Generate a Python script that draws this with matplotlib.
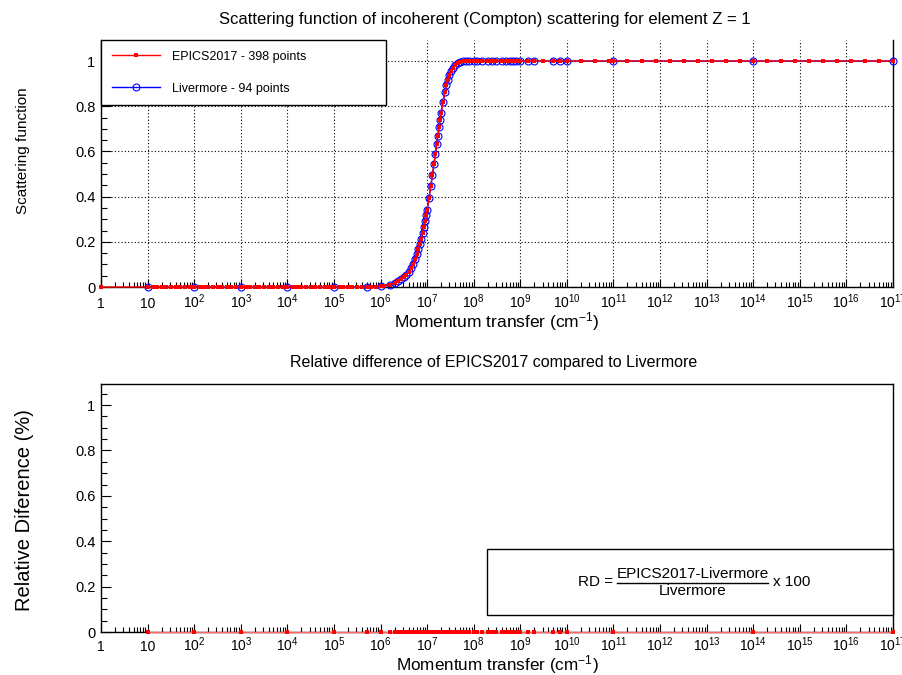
import numpy as np
import matplotlib
matplotlib.use("Agg")
import matplotlib.pyplot as plt
from matplotlib.ticker import FixedLocator, FuncFormatter, NullFormatter
from matplotlib.patches import Rectangle

plt.rcParams['font.family'] = ['Liberation Sans', 'DejaVu Sans']
plt.rcParams['mathtext.fontset'] = 'custom'
plt.rcParams['mathtext.rm'] = 'Liberation Sans'
plt.rcParams['mathtext.it'] = 'Liberation Sans:italic'
plt.rcParams['mathtext.bf'] = 'Liberation Sans:bold'

# ---- data ----
# EPICS2017 flat part (S ~ 0)
epics_low_x = [1, 10, 13, 16, 20, 25, 32, 40, 50, 63, 80,
               1e2, 1.3e2, 1.6e2, 2e2, 2.5e2, 3.2e2, 4e2, 5e2, 6.3e2, 8e2,
               1e3, 1.3e3, 1.6e3, 2e3, 2.5e3, 3.2e3, 4e3, 5e3, 6.3e3, 8e3,
               1e4, 1.3e4, 1.6e4, 2e4, 2.5e4, 3.2e4, 4e4, 5e4, 6.3e4, 8e4,
               1e5, 1.3e5, 1.6e5, 2e5, 2.5e5, 3.2e5, 4e5, 5e5, 6.3e5, 8e5,
               1e6, 1.2e6]
epics_low_y = [0.0] * 51 + [0.004, 0.006]

# Livermore flat part
liv_low_x = [10, 1e2, 1e3, 1e4, 1e5, 5e5, 1e6]
liv_low_y = [0, 0, 0, 0, 0, 0, 0.004]

# rising part (both sets coincide)
rise_x = [1.6e6, 2e6, 2.4e6, 2.8e6, 3.2e6, 3.6e6, 4e6, 4.5e6, 5e6, 5.5e6,
          6e6, 6.5e6, 7e6, 7.5e6, 8e6, 8.5e6, 9e6, 9.5e6, 1e7, 1.1e7,
          1.2e7, 1.3e7, 1.4e7, 1.5e7, 1.6e7, 1.7e7, 1.8e7, 1.9e7, 2e7, 2.2e7,
          2.4e7, 2.6e7, 2.8e7, 3e7, 3.3e7, 3.6e7, 4e7, 4.5e7, 5e7, 6e7,
          7e7, 8e7]
rise_y = [0.011, 0.018, 0.025, 0.034, 0.044, 0.055, 0.068, 0.085, 0.103, 0.123,
          0.145, 0.167, 0.190, 0.214, 0.239, 0.265, 0.290, 0.317, 0.343, 0.395,
          0.446, 0.496, 0.544, 0.589, 0.631, 0.670, 0.706, 0.739, 0.769, 0.820,
          0.861, 0.893, 0.918, 0.937, 0.958, 0.971, 0.983, 0.991, 0.995, 0.998,
          0.999, 1.0]

# plateau
plat_x = [1e8, 1.2e8, 1.5e8, 2e8, 2.5e8, 3e8, 4e8, 5e8, 6e8, 7e8, 8e8, 1e9]
plat_y = [1.0] * 12

liv_tail_x = [1.5e9, 2e9, 5e9, 7e9, 1e10, 1e11, 1e14, 1e17]
liv_tail_y = [1.0] * 8

epics_tail_x = [1.5e9, 2e9, 3e9, 5e9, 7e9, 1e10, 2e10, 4e10, 8e10, 1e11,
                2e11, 4e11, 8e11, 1.6e12, 3.2e12, 6.4e12, 1.28e13, 2.56e13, 5.12e13, 1e14,
                2e14, 4e14, 8e14, 1.6e15, 3.2e15, 6.4e15, 1.28e16, 2.56e16, 5.12e16, 1e17]
epics_tail_y = [1.0] * 30

epics_x = epics_low_x + rise_x + plat_x + epics_tail_x
epics_y = epics_low_y + rise_y + plat_y + epics_tail_y
liv_x = liv_low_x + rise_x + plat_x + liv_tail_x
liv_y = liv_low_y + rise_y + plat_y + liv_tail_y

# relative difference (%) at the Livermore points
rd_y = [0.0] * len(liv_x)

xmin, xmax = 1, 1e17
ymax = 1.093


def log_label(v, pos):
    n = int(round(np.log10(v)))
    if n == 0:
        return "1"
    if n == 1:
        return "10"
    return r"$\mathregular{10^{%d}}$" % n


def style_axis(ax, xpad):
    ax.set_xscale("log")
    ax.set_xlim(xmin, xmax)
    ax.set_ylim(0, ymax)
    major = [10.0 ** k for k in range(0, 18)]
    minor = [m * 10.0 ** k for k in range(0, 17) for m in range(2, 10)]
    ax.xaxis.set_major_locator(FixedLocator(major))
    ax.xaxis.set_minor_locator(FixedLocator(minor))
    ax.xaxis.set_major_formatter(FuncFormatter(log_label))
    ax.xaxis.set_minor_formatter(NullFormatter())
    ax.yaxis.set_major_locator(FixedLocator([0, 0.2, 0.4, 0.6, 0.8, 1.0]))
    ax.yaxis.set_minor_locator(FixedLocator(np.arange(0, 1.1, 0.05)))
    ax.yaxis.set_major_formatter(FuncFormatter(lambda v, p: "%g" % round(v, 1)))
    ax.tick_params(axis="both", which="both", direction="in",
                   top=False, right=False, width=0.8, color="black")
    ax.tick_params(axis="x", which="major", length=6, pad=xpad, labelsize=10)
    ax.tick_params(axis="x", which="minor", length=3.5)
    ax.tick_params(axis="y", which="major", length=7, pad=4, labelsize=10.5)
    ax.tick_params(axis="y", which="minor", length=4)
    # keep the "10" of every label on one baseline
    plt.setp(ax.get_xticklabels(), va="baseline")
    for s in ax.spines.values():
        s.set_linewidth(1)
        s.set_color("black")


fig = plt.figure(figsize=(9.02, 6.75), dpi=100)

# top panel
ax1 = fig.add_axes([0.112, 0.5748, 0.878, 0.3659])
style_axis(ax1, 15)
ax1.grid(True, which="major", linestyle=(0, (1, 2)), color="black", linewidth=0.8)
ax1.spines["top"].set_visible(False)
ax1.plot(liv_x, liv_y, color="blue", linewidth=1, marker="o", markersize=5,
         markerfacecolor="none", markeredgecolor="blue", markeredgewidth=0.8,
         clip_on=False, label="Livermore - 94 points", zorder=3)
ax1.plot(epics_x, epics_y, color="red", linewidth=1, marker="s", markersize=2.5,
         markeredgewidth=0, clip_on=False, label="EPICS2017 - 398 points", zorder=4)
h, l = ax1.get_legend_handles_labels()
leg = ax1.legend([h[1], h[0]], [l[1], l[0]], loc="upper left",
                 bbox_to_anchor=(0.0, 0.0, 0.36, 1.0), mode="expand",
                 borderaxespad=0, borderpad=0.85, labelspacing=1.6,
                 handlelength=3.9, handletextpad=0.9, numpoints=1,
                 fontsize=9, fancybox=False, framealpha=1, edgecolor="black")
leg.get_frame().set_linewidth(1)
ax1.set_xlabel(r"Momentum transfer (cm$^{-1}$)", fontsize=12.5, va="center")
ax1.xaxis.set_label_coords(0.5, -0.14)
ax1.set_ylabel("Scattering function", fontsize=11, va="center")
ax1.yaxis.set_label_coords(-0.099, 0.55)
fig.text(0.5377, 0.9704, "Scattering function of incoherent (Compton) scattering for element Z = 1",
         ha="center", va="center", fontsize=12)

# bottom panel
ax2 = fig.add_axes([0.112, 0.0637, 0.878, 0.3674])
style_axis(ax2, 13.5)
ax2.plot(liv_x, rd_y, color="#ff6666", linewidth=1, marker="s", markersize=2.5,
         markerfacecolor="red", markeredgewidth=0, clip_on=False, zorder=4)
ax2.set_xlabel(r"Momentum transfer (cm$^{-1}$)", fontsize=12.3, va="center")
ax2.xaxis.set_label_coords(0.5, -0.13)
ax2.set_ylabel("Relative Diference (%)", fontsize=14.5, va="center")
ax2.yaxis.set_label_coords(-0.096, 0.49)
fig.text(0.5477, 0.4637, "Relative difference of EPICS2017 compared to Livermore",
         ha="center", va="center", fontsize=11.5)

# formula box
ax2.add_patch(Rectangle((0.487, 0.0685), 0.513, 0.266, transform=ax2.transAxes,
                        facecolor="white", edgecolor="black", linewidth=1, zorder=5,
                        clip_on=False))
ax2.text(0.624, 0.203, "RD =", transform=ax2.transAxes, ha="center", va="center",
         fontsize=11, zorder=6)
ax2.text(0.747, 0.232, "EPICS2017-Livermore", transform=ax2.transAxes, ha="center",
         va="center", fontsize=11, zorder=6)
ax2.plot([0.652, 0.842], [0.199, 0.199], transform=ax2.transAxes, color="black",
         linewidth=1, zorder=6, clip_on=False)
ax2.text(0.747, 0.166, "Livermore", transform=ax2.transAxes, ha="center",
         va="center", fontsize=11, zorder=6)
ax2.text(0.872, 0.203, "x 100", transform=ax2.transAxes, ha="center", va="center",
         fontsize=11, zorder=6)

fig.savefig("out.png", dpi=100)
